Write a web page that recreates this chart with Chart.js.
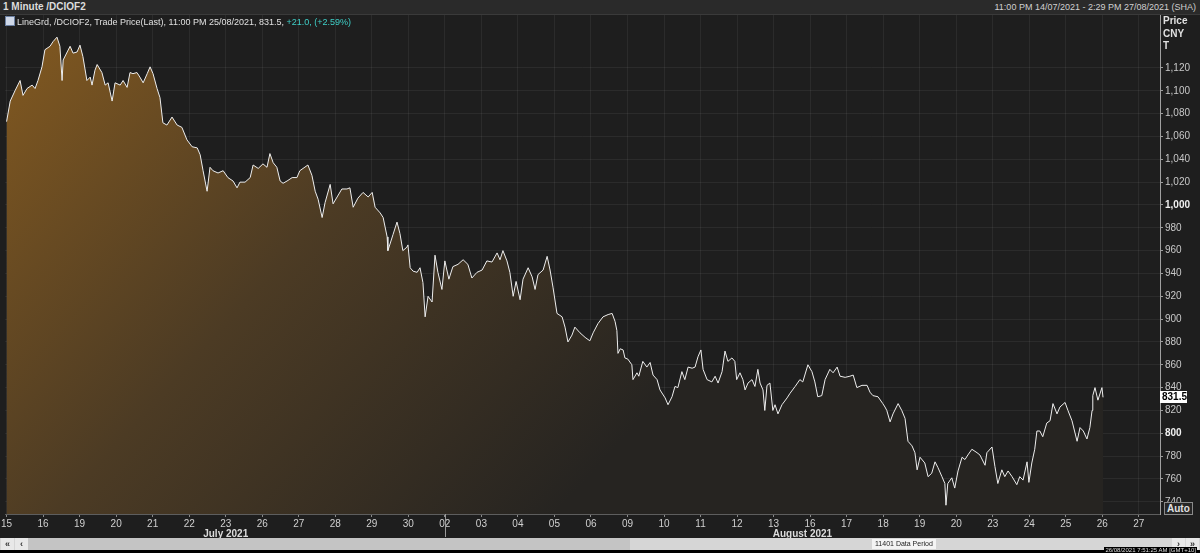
<!DOCTYPE html>
<html><head><meta charset="utf-8">
<script src="https://cdn.jsdelivr.net/npm/chart.js@4/dist/chart.umd.min.js"></script>
<style>
html,body{margin:0;padding:0;background:#1e1e1e;overflow:hidden}
#wrap{position:relative;width:1200px;height:553px;font-family:"Liberation Sans",Arial,sans-serif;color:#d8d8d8}
canvas{position:absolute;left:0;top:0}
.abs{position:absolute;white-space:nowrap}
#hdr{left:0;top:0;width:1200px;height:14px;background:#2a2a2a;border-bottom:1px solid #3a3a3a}
#title{left:3px;top:1px;font-size:10px;font-weight:bold;color:#dcdcdc}
#range{right:4px;top:2px;font-size:9px;color:#d0d0d0}
#legend{left:5px;top:16px;font-size:9px;color:#e0e0e0;line-height:12px}
#legend .icon{display:inline-block;width:8px;height:8px;background:#cfd8e8;border:1px solid #6b7fa0;vertical-align:-1px;margin-right:2px}
#legend .chg{color:#3fd0c8}
#unit{left:1163px;top:15px;font-size:10px;font-weight:bold;color:#e0e0e0;line-height:12.5px}
#auto{left:1164px;top:502px;font-size:10px;font-weight:bold;color:#e0e0e0;border:1px solid #8a8a8a;padding:0 2px;line-height:11px;background:#262626}
#status{left:0;top:538px;width:1200px;height:12px;background:#d6d6d6}
#status .thumb{position:absolute;left:28px;top:0;width:602px;height:12px;background:#c4c4c4}
#status .btn{position:absolute;top:0;height:12px;width:13px;background:#e8e8e8;font-size:9px;color:#333;text-align:center;line-height:12px;font-weight:bold}
#dp{left:872px;top:539px;font-size:7px;background:#f4f4f4;color:#222;padding:0 3px;line-height:10px}
#foot{left:0;top:550px;width:1200px;height:3px;background:#000}
#clock{right:3px;top:547px;font-size:6px;color:#ddd;background:#000;line-height:6px;padding:0 1px}
</style></head>
<body><div id="wrap">
<canvas id="c" width="1200" height="553"></canvas>
<div id="hdr" class="abs"></div>
<div id="title" class="abs">1 Minute /DCIOF2</div>
<div id="range" class="abs">11:00 PM 14/07/2021 - 2:29 PM 27/08/2021 (SHA)</div>
<div id="legend" class="abs"><span class="icon"></span>LineGrd, /DCIOF2, Trade Price(Last), 11:00 PM 25/08/2021, 831.5, <span class="chg">+21.0, (+2.59%)</span></div>
<div id="unit" class="abs">Price<br>CNY<br>T</div>
<div id="auto" class="abs">Auto</div>
<div id="status" class="abs"><div class="thumb"></div><div class="btn" style="left:1px">«</div><div class="btn" style="left:15px">‹</div><div class="btn" style="left:1172px">›</div><div class="btn" style="left:1186px">»</div></div>
<div id="dp" class="abs">11401 Data Period</div>
<div id="foot" class="abs"></div>
<div id="clock" class="abs">26/08/2021 7:51:25 AM [GMT+10]</div>
</div>
<script>
// ---- data ----
const dayLabels = ['15','16','19','20','21','22','23','26','27','28','29','30','02','03','04','05','06','09','10','11','12','13','16','17','18','19','20','23','24','25','26','27'];
const monthNames = ['July 2021','August 2021'];
const monthStarts = [0, 12]; // trading-day index where each month begins
const yTickValues = [740,760,780,800,820,840,860,880,900,920,940,960,980,1000,1020,1040,1060,1080,1100,1120];
const lastPrice = 831.5;
// time in trading days since the 15 July session start
const tradeTimes = [0.00,0.10,0.23,0.37,0.45,0.56,0.70,0.78,0.86,0.97,1.05,1.19,1.27,1.38,1.46,1.52,1.55,1.66,1.74,1.82,1.93,2.01,2.09,2.20,2.29,2.34,2.42,2.48,2.61,2.70,2.78,2.89,2.97,3.11,3.19,3.30,3.38,3.46,3.57,3.65,3.74,3.85,3.93,4.01,4.12,4.20,4.28,4.39,4.53,4.67,4.80,4.94,5.08,5.22,5.30,5.38,5.49,5.57,5.65,5.79,5.93,6.06,6.20,6.31,6.39,6.53,6.67,6.75,6.89,7.02,7.13,7.21,7.30,7.40,7.49,7.57,7.68,7.82,7.95,8.03,8.25,8.36,8.45,8.53,8.64,8.72,8.86,8.94,9.05,9.18,9.32,9.40,9.49,9.62,9.76,9.90,10.01,10.09,10.23,10.31,10.42,10.44,10.58,10.69,10.77,10.85,10.96,10.99,11.05,11.13,11.24,11.32,11.40,11.46,11.54,11.65,11.73,11.81,11.92,12.00,12.11,12.22,12.36,12.50,12.63,12.74,12.88,13.02,13.15,13.29,13.43,13.51,13.59,13.70,13.78,13.87,13.95,14.06,14.14,14.28,14.39,14.47,14.55,14.69,14.80,14.88,14.96,15.07,15.21,15.29,15.37,15.48,15.56,15.70,15.84,15.97,16.06,16.19,16.33,16.47,16.58,16.66,16.71,16.74,16.80,16.88,16.93,17.01,17.12,17.15,17.26,17.31,17.42,17.53,17.62,17.70,17.81,17.89,18.03,18.11,18.22,18.30,18.38,18.49,18.57,18.66,18.77,18.85,18.93,19.01,19.07,19.18,19.31,19.40,19.48,19.59,19.67,19.75,19.86,19.94,19.99,20.08,20.16,20.22,20.30,20.41,20.49,20.57,20.63,20.71,20.76,20.82,20.90,20.98,21.04,21.12,21.23,21.37,21.45,21.59,21.72,21.80,21.94,22.05,22.13,22.21,22.32,22.41,22.54,22.63,22.74,22.82,22.96,23.09,23.18,23.28,23.42,23.56,23.64,23.72,23.86,23.99,24.05,24.10,24.19,24.27,24.41,24.51,24.60,24.68,24.79,24.87,24.93,25.01,25.14,25.23,25.33,25.42,25.50,25.61,25.69,25.72,25.77,25.88,25.96,26.05,26.16,26.24,26.32,26.43,26.57,26.65,26.79,26.84,26.98,27.06,27.14,27.25,27.33,27.42,27.53,27.66,27.74,27.83,27.94,27.99,28.07,28.15,28.21,28.29,28.37,28.48,28.57,28.65,28.76,28.84,28.98,29.06,29.17,29.31,29.39,29.48,29.58,29.66,29.72,29.74,29.80,29.88,29.99,30.02];
const prices = [1073,1091,1100,1109,1096,1102,1105,1102,1109,1121,1136,1139,1143,1147,1139,1109,1127,1134,1139,1133,1134,1140,1130,1109,1112,1105,1118,1123,1116,1105,1107,1091,1107,1105,1109,1103,1116,1115,1116,1112,1107,1115,1121,1115,1102,1094,1072,1070,1077,1070,1068,1057,1051,1050,1044,1030,1012,1033,1030,1028,1030,1024,1021,1015,1020,1020,1024,1035,1032,1036,1033,1045,1037,1033,1021,1019,1021,1024,1024,1030,1035,1026,1012,1005,989,1002,1018,1001,1007,1014,1014,1015,998,1006,1011,1007,1011,998,993,989,972,960,974,985,975,960,963,965,945,942,941,945,932,902,920,915,956,941,926,951,935,946,948,952,948,936,941,943,951,950,958,952,960,951,941,920,933,917,935,945,937,926,939,943,955,943,928,905,902,893,880,886,893,888,884,881,888,896,902,904,905,898,890,870,874,873,866,865,860,847,853,850,863,858,862,851,847,838,831,825,832,841,840,854,847,858,857,858,867,873,856,847,845,850,844,854,872,863,866,863,847,853,847,838,844,847,841,856,844,838,820,842,844,820,825,817,825,831,835,841,847,845,860,854,845,832,833,847,856,853,858,850,849,850,851,840,842,842,836,833,832,826,823,820,810,817,826,820,813,793,789,783,768,779,774,762,765,775,770,762,756,737,756,761,752,767,779,777,781,786,783,781,772,783,788,771,756,768,762,767,762,755,762,759,775,757,774,786,802,802,797,809,811,826,817,823,827,820,811,793,805,802,795,805,820,833,840,829,840,831.5];

const points = tradeTimes.map((t,i)=>({x:t,y:prices[i]}));

const extras = {
  id:'extras',
  afterDraw(chart){
    const ctx = chart.ctx, xs = chart.scales.x, ys = chart.scales.y, a = chart.chartArea;
    ctx.save();
    ctx.font = 'bold 10px "Liberation Sans", Arial, sans-serif';
    ctx.fillStyle = '#dcdcdc';
    ctx.textAlign = 'center'; ctx.textBaseline = 'middle';
    monthStarts.forEach((s,i)=>{
      const end = i+1 < monthStarts.length ? monthStarts[i+1] : xs.max;
      const cx = (xs.getPixelForValue(s) + xs.getPixelForValue(end))/2;
      ctx.fillText(monthNames[i], cx, a.bottom + 20);
      if(i>0){
        const px = Math.round(xs.getPixelForValue(s))+0.5;
        ctx.strokeStyle = '#9a9a9a'; ctx.lineWidth = 1;
        ctx.beginPath(); ctx.moveTo(px, a.bottom); ctx.lineTo(px, a.bottom+23); ctx.stroke();
      }
    });
    const py = ys.getPixelForValue(lastPrice);
    ctx.fillStyle = '#ffffff';
    ctx.fillRect(a.right, Math.round(py)-6, 27, 12);
    ctx.fillStyle = '#000'; ctx.textAlign='left';
    ctx.font = 'bold 10px "Liberation Sans", Arial, sans-serif';
    ctx.fillText(lastPrice.toFixed(1), a.right+2, Math.round(py)+0.5);
    ctx.restore();
  }
};

new Chart(document.getElementById('c'), {
  type:'line',
  data:{datasets:[{
    data: points,
    borderColor:'#eeeeee', borderWidth:1, pointRadius:0, tension:0,
    fill:'start',
    backgroundColor(ctx){
      const a = ctx.chart.chartArea; if(!a) return 'rgba(0,0,0,0)';
      const g = ctx.chart.ctx.createLinearGradient(a.left, a.top, a.left+550, a.bottom);
      g.addColorStop(0, 'rgb(132,90,32)');
      g.addColorStop(0.5, 'rgb(76,59,36)');
      g.addColorStop(1, 'rgb(38,36,33)');
      return g;
    }
  }]},
  options:{
    responsive:false, animation:false,
    layout:{padding:{left:5, top:15, right:0, bottom:0}},
    plugins:{legend:{display:false}, tooltip:{enabled:false}},
    scales:{
      x:{
        type:'linear', min:-0.04, max:31.58,
        afterBuildTicks(s){ s.ticks = dayLabels.map((_,i)=>({value:i})); },
        afterFit(s){ s.height = 39; },
        ticks:{autoSkip:false, maxRotation:0, padding:1, color:'#d0d0d0',
          font:{family:'"Liberation Sans", Arial, sans-serif', size:10},
          callback:(v)=>dayLabels[v]},
        grid:{color:'rgba(255,255,255,0.06)', tickColor:'#8a8a8a', tickLength:3},
        border:{color:'#5e5e5e'}
      },
      y:{
        position:'right', min:729.3, max:1166.4,
        afterBuildTicks(s){ s.ticks = yTickValues.map(v=>({value:v})); },
        afterFit(s){ s.width = 40; },
        ticks:{padding:2, autoSkip:false,
          color:(c)=> c.tick && c.tick.value%200===0 ? '#f0f0f0' : '#c8c8c8',
          font:(c)=>({family:'"Liberation Sans", Arial, sans-serif', size:10, weight: (c.tick && c.tick.value%200===0) ? 'bold':'normal'}),
          callback:(v)=>v.toLocaleString('en-US')},
        grid:{color:'rgba(255,255,255,0.06)', tickColor:'#9a9a9a', tickLength:3},
        border:{color:'#a0a0a0'}
      }
    }
  },
  plugins:[extras]
});
</script>
</body></html>
